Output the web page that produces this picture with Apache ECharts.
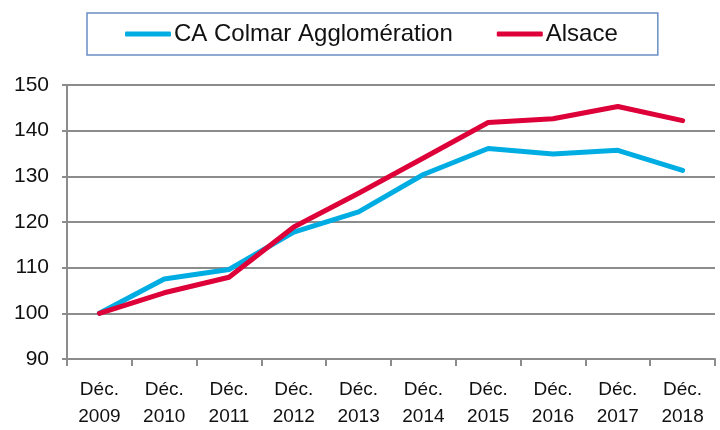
<!DOCTYPE html>
<html>
<head>
<meta charset="utf-8">
<script src="https://cdn.jsdelivr.net/npm/echarts@6/dist/echarts.min.js"></script>
<style>
  html, body { margin: 0; padding: 0; background: #fff; }
  #chart { width: 720px; height: 430px; }
</style>
</head>
<body>
<div id="chart"></div>
<script>
const years = ["Déc.\n2009", "Déc.\n2010", "Déc.\n2011", "Déc.\n2012", "Déc.\n2013",
  "Déc.\n2014", "Déc.\n2015", "Déc.\n2016", "Déc.\n2017", "Déc.\n2018"];
const colmar = [100, 107.5, 109.6, 117.8, 122.2, 130.4, 136.1, 134.9, 135.7, 131.3];
const alsace = [100, 104.5, 107.9, 118.9, 126.3, 134.0, 141.8, 142.6, 145.3, 142.2];

const font = "Liberation Sans";
const chart = echarts.init(document.getElementById("chart"));
chart.setOption({
  animation: false,
  textStyle: { fontFamily: font },
  legend: {
    left: 87,
    top: 13,
    padding: [9, 40, 9, 38],
    borderColor: "#6a8fc4",
    borderWidth: 1.5,
    itemGap: 44,
    itemWidth: 46,
    itemHeight: 5,
    icon: "roundRect",
    textStyle: { fontSize: 24, color: "#111", padding: [0, 0, 0, -2] },
    data: ["CA Colmar Agglomération", "Alsace"],
  },
  grid: { left: 67, right: 5, top: 85, bottom: 70 },
  xAxis: {
    type: "category",
    data: years,
    axisLine: { lineStyle: { color: "#8c8c8c", width: 2 } },
    axisTick: { show: true, length: 7, lineStyle: { color: "#8c8c8c", width: 2 } },
    axisLabel: { color: "#111", fontSize: 19, lineHeight: 27, margin: 17, interval: 0 },
  },
  yAxis: {
    type: "value",
    min: 90,
    max: 150,
    interval: 10,
    axisLine: { show: true, lineStyle: { color: "#8c8c8c", width: 2 } },
    axisTick: { show: true, length: 5, lineStyle: { color: "#8c8c8c", width: 2 } },
    axisLabel: { color: "#111", fontSize: 21, margin: 18 },
    splitLine: { lineStyle: { color: "#8c8c8c", width: 2 } },
  },
  series: [
    {
      name: "CA Colmar Agglomération",
      type: "line",
      data: colmar,
      symbol: "none",
      color: "#00ade3",
      lineStyle: { width: 5, cap: "round", join: "round" },
    },
    {
      name: "Alsace",
      type: "line",
      data: alsace,
      symbol: "none",
      color: "#dd0039",
      lineStyle: { width: 5, cap: "round", join: "round" },
    },
  ],
});
</script>
</body>
</html>
